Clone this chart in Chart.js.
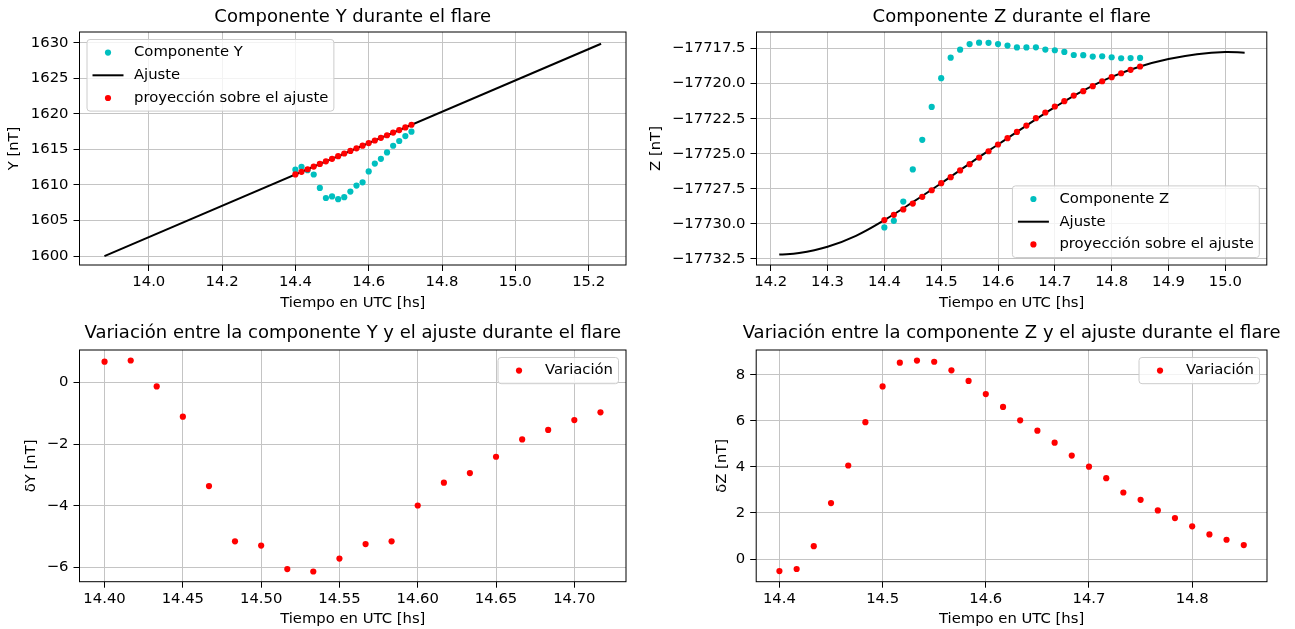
<!DOCTYPE html>
<html>
<head>
<meta charset="utf-8">
<script src="https://cdn.jsdelivr.net/npm/chart.js@4.4.1/dist/chart.umd.min.js"></script>
<style>
  body { margin: 0; background: #fff; width: 1295px; height: 629px; overflow: hidden; position: relative; }
  canvas { position: absolute; }
</style>
</head>
<body>
<canvas id="compY" width="645" height="315" style="left:0;top:0"></canvas>
<canvas id="compZ" width="650" height="315" style="left:645px;top:0"></canvas>
<canvas id="varY" width="645" height="314" style="left:0;top:315px"></canvas>
<canvas id="varZ" width="650" height="314" style="left:645px;top:315px"></canvas>
<script>
// tiempos en UTC [hs], un dato por minuto
const timeY = [14.4, 14.4167, 14.4333, 14.45, 14.4667, 14.4833, 14.5, 14.5167, 14.5333, 14.55,
  14.5667, 14.5833, 14.6, 14.6167, 14.6333, 14.65, 14.6667, 14.6833, 14.7, 14.7167];
const timeZ = [14.4, 14.4167, 14.4333, 14.45, 14.4667, 14.4833, 14.5, 14.5167, 14.5333, 14.55,
  14.5667, 14.5833, 14.6, 14.6167, 14.6333, 14.65, 14.6667, 14.6833, 14.7, 14.7167,
  14.7333, 14.75, 14.7667, 14.7833, 14.8, 14.8167, 14.8333, 14.85];

// componente Y
const compY = [1612.15, 1612.56, 1612.08, 1611.47, 1609.59, 1608.17, 1608.39, 1608.0, 1608.29, 1609.07,
  1609.91, 1610.37, 1611.9, 1613.0, 1613.68, 1614.58, 1615.51, 1616.18, 1616.87, 1617.49];
const projY = [1611.48, 1611.85, 1612.21, 1612.58, 1612.95, 1613.32, 1613.68, 1614.05, 1614.42, 1614.78,
  1615.15, 1615.52, 1615.89, 1616.25, 1616.62, 1616.99, 1617.36, 1617.72, 1618.09, 1618.46];
const fitYTime = [13.879, 15.234];
const fitYValue = [1600.0, 1629.85];
const deltaY = [0.67, 0.71, -0.13, -1.11, -3.36, -5.15, -5.29, -6.05, -6.13, -5.71,
  -5.24, -5.15, -3.99, -3.25, -2.94, -2.41, -1.85, -1.54, -1.22, -0.97];

// componente Z
const compZ = [-17730.25, -17729.78, -17728.41, -17726.12, -17724.01, -17721.66, -17719.61, -17718.15,
  -17717.58, -17717.18, -17717.08, -17717.09, -17717.18, -17717.29, -17717.42, -17717.42, -17717.41,
  -17717.57, -17717.62, -17717.74, -17717.96, -17717.97, -17718.07, -17718.05, -17718.12, -17718.19,
  -17718.18, -17718.17];
const projZ = [-17729.73, -17729.35, -17728.97, -17728.55, -17728.07, -17727.6, -17727.1, -17726.67,
  -17726.19, -17725.74, -17725.27, -17724.82, -17724.34, -17723.89, -17723.44, -17722.99, -17722.46,
  -17722.06, -17721.63, -17721.25, -17720.85, -17720.54, -17720.18, -17719.83, -17719.54, -17719.26,
  -17719.02, -17718.78];
const fitZTime = [14.215, 14.25, 14.3, 14.35, 14.4, 14.45, 14.5, 14.55, 14.6, 14.65,
  14.7, 14.75, 14.8, 14.85, 14.9, 14.95, 15.0, 15.034];
const fitZValue = [-17732.18, -17732.08, -17731.63, -17730.85, -17729.73, -17728.45, -17727.1,
  -17725.7, -17724.34, -17722.99, -17721.68, -17720.5, -17719.52, -17718.78, -17718.25, -17717.9,
  -17717.74, -17717.8];
const deltaZ = [-0.52, -0.43, 0.56, 2.43, 4.06, 5.94, 7.49, 8.52, 8.61, 8.56, 8.19, 7.73, 7.16, 6.6,
  6.02, 5.57, 5.05, 4.49, 4.01, 3.51, 2.89, 2.57, 2.11, 1.78, 1.42, 1.07, 0.84, 0.61];

// ticks
const ticksCompYx = [14.0, 14.2, 14.4, 14.6, 14.8, 15.0, 15.2];
const ticksCompYy = [1600, 1605, 1610, 1615, 1620, 1625, 1630];
const ticksCompZx = [14.2, 14.3, 14.4, 14.5, 14.6, 14.7, 14.8, 14.9, 15.0];
const ticksCompZy = [-17732.5, -17730, -17727.5, -17725, -17722.5, -17720, -17717.5];
const ticksVarYx = [14.4, 14.45, 14.5, 14.55, 14.6, 14.65, 14.7];
const ticksVarYy = [-6, -4, -2, 0];
const ticksVarZx = [14.4, 14.5, 14.6, 14.7, 14.8];
const ticksVarZy = [0, 2, 4, 6, 8];

const CYAN = '#00bfbf';
const RED = '#ff0000';
const FS = 14.8;

Chart.defaults.font.family = '"DejaVu Sans", sans-serif';
Chart.defaults.font.size = FS;
Chart.defaults.color = '#000';

function pts(xs, ys) {
  return xs.map((x, i) => ({ x, y: ys[i] }));
}

function fmt(dec) {
  return (v) => (v < 0 ? '\u2212' : '') + Math.abs(v).toFixed(dec);
}

function dots(label, xs, ys, color, order) {
  return {
    label, data: pts(xs, ys), order,
    pointRadius: 3.1, pointBorderWidth: 0,
    pointBackgroundColor: color, backgroundColor: color, borderColor: color,
  };
}

function fitLine(xs, ys, smooth) {
  return {
    label: 'Ajuste', data: pts(xs, ys), order: 1, showLine: true,
    pointRadius: 0, borderColor: '#000', borderWidth: 2,
    tension: smooth ? 0.4 : 0,
  };
}

function axis(o) {
  const horiz = o.horiz;
  return {
    type: 'linear',
    min: o.min,
    max: o.max,
    afterBuildTicks: (s) => { s.ticks = o.ticks.map((v) => ({ value: v })); },
    afterFit: (s) => { if (horiz) s.height = o.size; else s.width = o.size; },
    grid: { color: '#c4c4c4', lineWidth: 1, tickColor: '#000', tickLength: 6, tickWidth: 1 },
    border: { display: false },
    ticks: { callback: fmt(o.dec), padding: horiz ? 2.4 : 5, autoSkip: false, maxRotation: 0 },
    title: {
      display: true, text: o.label,
      padding: horiz ? { top: 0, bottom: o.titlePad } : { top: o.titlePad, bottom: 0 },
    },
  };
}

function roundRect(ctx, x, y, w, h, r) {
  ctx.beginPath();
  ctx.moveTo(x + r, y);
  ctx.arcTo(x + w, y, x + w, y + h, r);
  ctx.arcTo(x + w, y + h, x, y + h, r);
  ctx.arcTo(x, y + h, x, y, r);
  ctx.arcTo(x, y, x + w, y, r);
  ctx.closePath();
}

// marco negro de los cuatro lados
const frame = {
  id: 'frame',
  afterDatasetsDraw(chart) {
    const { ctx, chartArea: a } = chart;
    ctx.save();
    ctx.strokeStyle = '#000';
    ctx.lineWidth = 1;
    ctx.strokeRect(a.left, a.top, a.right - a.left, a.bottom - a.top);
    ctx.restore();
  },
};

// titulo centrado sobre los ejes
const titleOverAxes = {
  id: 'titleOverAxes',
  afterLayout(chart) {
    const t = chart.titleBlock;
    const a = chart.chartArea;
    const mid = (a.left + a.right) / 2;
    t.left = mid - 400;
    t.right = mid + 400;
  },
};

// leyenda estilo matplotlib dentro de los ejes
const mplLegend = {
  id: 'mplLegend',
  afterDraw(chart, args, opts) {
    const { ctx, chartArea: a } = chart;
    const sets = chart.data.datasets;
    const rowH = 22.7, pad = 5.5, handle = 31, gap = 10.5, margin = 7.5;
    ctx.save();
    ctx.font = FS + 'px "DejaVu Sans"';
    const textW = Math.max(...sets.map((d) => ctx.measureText(d.label).width));
    const w = pad + handle + gap + textW + pad;
    const h = sets.length * rowH + 3.5;
    const x0 = opts.corner.includes('left') ? a.left + margin : a.right - margin - w;
    const y0 = opts.corner.includes('upper') ? a.top + margin : a.bottom - margin - h;
    roundRect(ctx, x0, y0, w, h, 3);
    ctx.fillStyle = 'rgba(255,255,255,0.8)';
    ctx.fill();
    ctx.strokeStyle = '#cccccc';
    ctx.lineWidth = 1;
    ctx.stroke();
    sets.forEach((d, i) => {
      const cy = y0 + 1.75 + rowH * (i + 0.5);
      const cx = x0 + pad + handle / 2;
      if (d.showLine) {
        ctx.strokeStyle = d.borderColor;
        ctx.lineWidth = d.borderWidth;
        ctx.beginPath();
        ctx.moveTo(x0 + pad, cy);
        ctx.lineTo(x0 + pad + handle, cy);
        ctx.stroke();
      } else {
        ctx.fillStyle = d.pointBackgroundColor;
        ctx.beginPath();
        ctx.arc(cx, cy, 3.1, 0, Math.PI * 2);
        ctx.fill();
      }
      ctx.fillStyle = '#000';
      ctx.textBaseline = 'middle';
      ctx.textAlign = 'left';
      ctx.fillText(d.label, x0 + pad + handle + gap, cy);
    });
    ctx.restore();
  },
};

function makeChart(id, cfg) {
  return new Chart(document.getElementById(id), {
    type: 'scatter',
    data: { datasets: cfg.datasets },
    options: {
      responsive: false,
      animation: false,
      events: [],
      layout: { padding: { left: 0, right: cfg.padRight, top: 0, bottom: 0 } },
      plugins: {
        legend: { display: false },
        tooltip: { enabled: false },
        title: { display: true, text: cfg.title, font: { size: 18, weight: 'normal' }, padding: cfg.titlePad },
        mplLegend: { corner: cfg.corner },
      },
      scales: { x: axis(cfg.x), y: axis(cfg.y) },
    },
    plugins: [frame, titleOverAxes, mplLegend],
  });
}

makeChart('compY', {
  title: 'Componente Y durante el flare',
  titlePad: { top: 6.5, bottom: 3.9 },
  padRight: 19,
  corner: 'upper left',
  datasets: [
    dots('Componente Y', timeY, compY, CYAN, 2),
    fitLine(fitYTime, fitYValue, false),
    dots('proyección sobre el ajuste', timeY, projY, RED, 0),
  ],
  x: { horiz: true, min: 13.811, max: 15.302, ticks: ticksCompYx, dec: 1, size: 50, label: 'Tiempo en UTC [hs]', titlePad: 3.1 },
  y: { horiz: false, min: 1598.75, max: 1631.5, ticks: ticksCompYy, dec: 0, size: 79.5, label: 'Y [nT]', titlePad: 5.6 },
});

makeChart('compZ', {
  title: 'Componente Z durante el flare',
  titlePad: { top: 6.5, bottom: 3.9 },
  padRight: 28.2,
  corner: 'lower right',
  datasets: [
    dots('Componente Z', timeZ, compZ, CYAN, 2),
    fitLine(fitZTime, fitZValue, true),
    dots('proyección sobre el ajuste', timeZ, projZ, RED, 0),
  ],
  x: { horiz: true, min: 14.175, max: 15.073, ticks: ticksCompZx, dec: 1, size: 50, label: 'Tiempo en UTC [hs]', titlePad: 3.1 },
  y: { horiz: false, min: -17732.93, max: -17716.32, ticks: ticksCompZy, dec: 1, size: 111.5, label: 'Z [nT]', titlePad: 2.7 },
});

makeChart('varY', {
  title: 'Variación entre la componente Y y el ajuste durante el flare',
  titlePad: { top: 7.5, bottom: 5.9 },
  padRight: 19,
  corner: 'upper right',
  datasets: [dots('Variación', timeY, deltaY, RED, 0)],
  x: { horiz: true, min: 14.384, max: 14.733, ticks: ticksVarYx, dec: 2, size: 47.3, label: 'Tiempo en UTC [hs]', titlePad: 1.1 },
  y: { horiz: false, min: -6.46, max: 1.05, ticks: ticksVarYy, dec: 0, size: 79.5, label: 'δY [nT]', titlePad: 22.2 },
});

makeChart('varZ', {
  title: 'Variación entre la componente Z y el ajuste durante el flare',
  titlePad: { top: 7.5, bottom: 5.9 },
  padRight: 28,
  corner: 'upper right',
  datasets: [dots('Variación', timeZ, deltaZ, RED, 0)],
  x: { horiz: true, min: 14.3775, max: 14.8725, ticks: ticksVarZx, dec: 1, size: 47.3, label: 'Tiempo en UTC [hs]', titlePad: 1.1 },
  y: { horiz: false, min: -0.98, max: 9.07, ticks: ticksVarZy, dec: 0, size: 111.2, label: 'δZ [nT]', titlePad: 67.9 },
});
</script>
</body>
</html>
